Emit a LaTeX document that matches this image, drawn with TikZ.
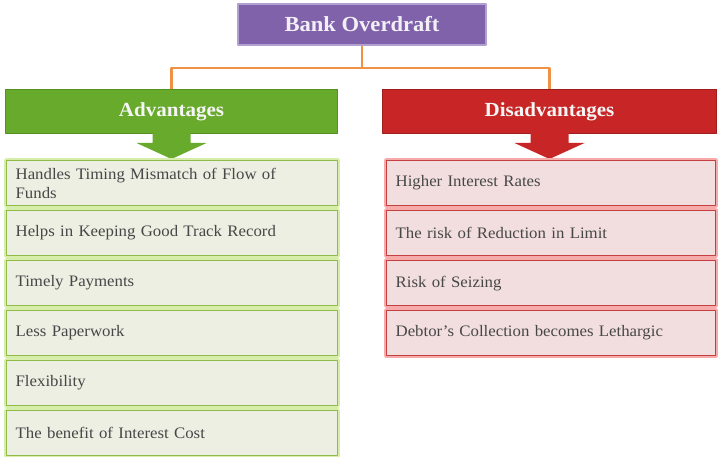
\documentclass[tikz,border=0pt]{standalone}
\usepackage{fontspec}
\setmainfont{Liberation Serif}[FakeStretch=1.05]
\begin{document}
\begin{tikzpicture}[x=1pt, y=-1pt, line join=round,
    head/.style={anchor=north west, minimum height=44pt, inner sep=0pt,
      font=\fontsize{20}{22}\selectfont\bfseries, text=white!92!gray},
    item/.style={anchor=north west, minimum height=45pt, inner xsep=9pt, inner ysep=0pt,
      align=left, font=\fontsize{16}{19}\selectfont, text=black!72, line width=1.3pt},
    pro/.style={item, minimum width=331pt, text width=313pt, fill=profill, draw=proline,
      preaction={draw=proglow, line width=4.5pt}},
    con/.style={item, minimum width=329pt, text width=311pt, fill=confill, draw=conline,
      preaction={draw=conglow, line width=5pt}},
    link/.style={draw=linkorange, line width=2.2pt}]
  \definecolor{titlepurple}{RGB}{128,98,170}
  \definecolor{titleline}{RGB}{178,160,208}
  \definecolor{advgreen}{RGB}{104,170,44}
  \definecolor{advline}{RGB}{84,146,32}
  \definecolor{disred}{RGB}{200,38,38}
  \definecolor{disline}{RGB}{158,30,30}
  \definecolor{profill}{RGB}{236,239,226}
  \definecolor{proline}{RGB}{146,188,74}
  \definecolor{proglow}{RGB}{214,238,170}
  \definecolor{confill}{RGB}{242,222,222}
  \definecolor{conline}{RGB}{196,64,64}
  \definecolor{conglow}{RGB}{246,170,170}
  \definecolor{linkorange}{RGB}{240,146,70}
  \useasboundingbox (0,0) rectangle (720,457);
  \node[head, minimum width=248pt, minimum height=41pt, fill=titlepurple, draw=titleline,
    line width=2pt, font=\fontsize{21.5}{24}\selectfont\bfseries,
    text=white!90!titlepurple] (title) at (237,3) {Bank Overdraft};
  \node[head, minimum width=332pt, fill=advgreen, draw=advline, line width=1pt] (adv) at (5,89) {Advantages};
  \node[head, minimum width=334pt, fill=disred, draw=disline, line width=1pt] (dis) at (382,89) {Disadvantages};
  \coordinate (split) at (title.south |- 0,68);
  \draw[link] (title.south) -- (split);
  \draw[link] (split) -| (adv.north);
  \draw[link] (split) -| (dis.north);
  \fill[advgreen] (adv.south) ++(-19,-1) -- ++(38,0) -- ++(0,10) -- ++(16,0) -- ++(-35,16)
    -- ++(-35,-16) -- ++(16,0) -- cycle;
  \fill[disred] (dis.south) ++(-19,-1) -- ++(38,0) -- ++(0,10) -- ++(16,0) -- ++(-35,16)
    -- ++(-35,-16) -- ++(16,0) -- cycle;
  \node[pro] (p1) at (6,160) {Handles Timing Mismatch of Flow of\\Funds};
  \node[pro] (p2) at (6,210) {Helps in Keeping Good Track Record};
  \node[pro] (p3) at (6,260) {Timely Payments};
  \node[pro] (p4) at (6,310) {Less Paperwork};
  \node[pro] (p5) at (6,360) {Flexibility};
  \node[pro] (p6) at (6,410) {The benefit of Interest Cost};
  \node[con] (c1) at (386,160) {Higher Interest Rates};
  \node[con] (c2) at (386,210) {The risk of Reduction in Limit};
  \node[con] (c3) at (386,260) {Risk of Seizing};
  \node[con] (c4) at (386,310) {Debtor's Collection becomes Lethargic};
\end{tikzpicture}
\end{document}
